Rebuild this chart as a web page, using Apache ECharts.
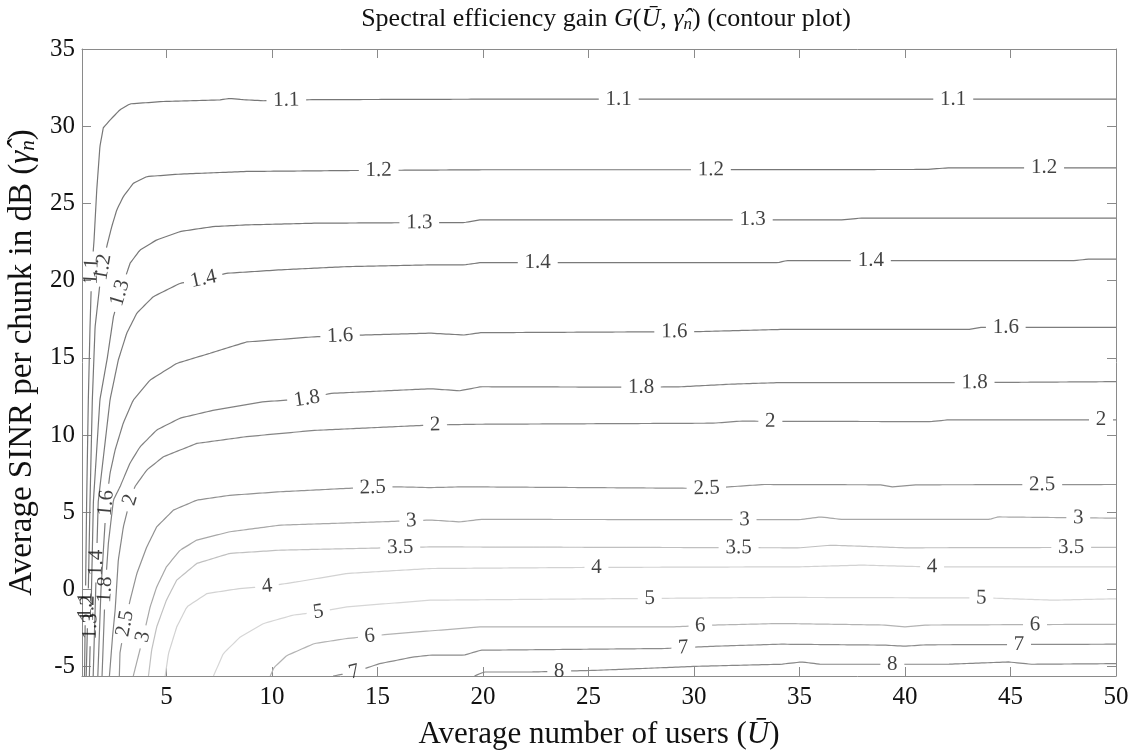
<!DOCTYPE html>
<html>
<head>
<meta charset="utf-8">
<script src="https://cdn.jsdelivr.net/npm/echarts@6/dist/echarts.min.js"></script>
<style>
  html, body { margin: 0; padding: 0; background: #ffffff; }
  #chart { width: 1139px; height: 751px; }
</style>
</head>
<body>
<div id="chart"></div>
<script>
// Contour levels of the gain G(U, gamma)
const levels = [1.1, 1.2, 1.3, 1.4, 1.6, 1.8, 2, 2.5, 3, 3.5, 4, 5, 6, 7, 8];

// Each contour: [average number of users, SINR in dB] along the iso-line
const contour_1_1 = [[1.12,-5.6],[1.17,0],[1.22,5.7],[1.3,12.3],[1.38,17],[1.46,20.6],[1.57,22.6],[1.7,25.9],[1.85,28.7],[2.01,29.9],[2.33,30.4],[2.8,31.07],[3.28,31.45],[4.85,31.6],[7.5,31.7],[8.0,31.8],[8.6,31.72],[9.6,31.65],[12,31.72],[20,31.75],[35,31.75],[50,31.75]];
const contour_1_2 = [[1.2,-5.6],[1.3,0],[1.38,5.7],[1.49,12.3],[1.62,17],[1.85,19.8],[2.17,22.2],[2.41,23.5],[2.65,24.59],[2.96,25.45],[3.43,26.3],[4.07,26.74],[5.65,26.9],[8.8,27.07],[13.6,27.13],[20,27.18],[30,27.18],[41,27.2],[42,27.3],[50,27.3]];
const contour_1_3 = [[1.35,-5.6],[1.45,0],[1.54,5.7],[1.85,12.3],[2.2,15],[2.49,17.67],[2.8,19.2],[3.28,21.13],[3.75,21.99],[4.54,22.64],[5.65,23.18],[7.2,23.5],[8.8,23.61],[12,23.72],[17.5,23.76],[19.1,23.76],[19.9,23.94],[37,23.94],[37.9,24.05],[50,24.05]];
const contour_1_4 = [[1.53,-5.6],[1.65,0],[1.77,5.7],[2.33,12.3],[2.72,14.86],[3.12,16.6],[3.6,17.9],[4.38,18.97],[5.65,19.83],[6.76,20.1],[7.87,20.48],[10.4,20.7],[13.56,20.91],[17.5,21.02],[19.1,21.02],[19.9,21.17],[34,21.17],[34.4,21.3],[48,21.3],[48.7,21.39],[50,21.39]];
const contour_1_6 = [[1.75,-5.6],[1.9,0],[2.15,5.6],[2.33,7.54],[2.57,9.04],[2.96,10.8],[3.43,12.27],[4.23,13.57],[5.5,14.65],[7.07,15.3],[8.8,16.03],[11.97,16.36],[14.35,16.48],[17.5,16.6],[19.1,16.48],[19.9,16.63],[30.2,16.7],[34.1,16.84],[43,16.84],[43.6,16.98],[50,16.98]];
const contour_1_8 = [[1.95,-5.6],[2.1,0],[2.25,3.0],[2.49,5.8],[2.8,6.65],[3.28,8.2],[3.75,9.24],[4.54,10.33],[5.65,11.1],[7.2,11.6],[9.6,12.16],[11.66,12.35],[12.77,12.7],[17.5,13.0],[18.9,12.87],[19.9,13.13],[27.5,13.1],[29.4,13.13],[31.8,13.3],[34.1,13.4],[43.3,13.4],[50,13.46]];
const contour_2 = [[2.3,-5.6],[2.45,-3],[2.57,-1.34],[2.72,1.9],[2.96,4.06],[3.28,5.8],[3.5,6.65],[4.07,7.74],[4.86,8.6],[6.44,9.46],[8.8,9.9],[11.97,10.3],[17.5,10.65],[19.6,10.7],[30.9,10.77],[32.2,10.9],[41.2,10.87],[42.0,10.98],[50,10.98]];
const contour_2_5 = [[2.77,-5.6],[2.8,-4.1],[3.04,-2.2],[3.28,-0.69],[3.6,1.04],[4.07,2.76],[4.54,4.06],[5.33,5.14],[6.44,5.79],[8.0,6.1],[10.4,6.33],[13.56,6.55],[15.9,6.65],[17.5,6.6],[19.1,6.65],[30.6,6.55],[31.7,6.65],[33.3,6.8],[38.8,6.78],[39.4,6.65],[40.6,6.78],[50,6.8]];
const contour_3 = [[3.43,-5.6],[3.9,-3.07],[4.23,-1.12],[4.54,0.17],[5.0,1.47],[5.65,2.55],[6.44,3.2],[8.0,3.74],[10.4,4.17],[15.1,4.38],[17.5,4.5],[18.9,4.38],[19.9,4.54],[35,4.52],[36,4.7],[37,4.54],[44,4.54],[44.4,4.7],[50,4.62]];
const contour_3_5 = [[4.15,-5.6],[4.3,-3.93],[4.54,-2.42],[5.0,-0.69],[5.49,0.61],[6.44,1.69],[8.0,2.34],[10.4,2.55],[17.5,2.76],[35,2.7],[36.5,2.87],[40,2.7],[50,2.73]];
const contour_4 = [[4.94,-5.6],[5.1,-4.14],[5.49,-2.42],[5.97,-1.12],[6.92,-0.26],[8.5,0.07],[9.77,0.2],[11.2,0.5],[13.56,1.04],[17.5,1.36],[25,1.43],[35,1.47],[38,1.58],[41,1.47],[50,1.47]];
const contour_5 = [[7.23,-5.6],[7.7,-4.14],[8.5,-3.07],[9.6,-2.2],[11.0,-1.66],[12.2,-1.45],[13.56,-1.12],[17.5,-0.69],[34.1,-0.51],[44,-0.55],[47,-0.69],[50,-0.6]];
const contour_6 = [[9.92,-5.6],[10.1,-5.05],[10.7,-4.28],[12.0,-3.5],[13.56,-3.17],[15.9,-2.85],[17.5,-2.68],[19.9,-2.42],[29,-2.42],[31,-2.3],[34.1,-2.2],[39,-2.3],[40,-2.42],[41,-2.3],[50,-2.25]];
const contour_7 = [[12.9,-5.6],[13.9,-5.35],[15.1,-4.8],[16.7,-4.37],[17.5,-4.25],[19.1,-4.25],[19.9,-3.93],[28.6,-3.82],[31.0,-3.67],[34.1,-3.54],[39,-3.6],[40,-3.67],[41,-3.58],[50,-3.54]];
const contour_8 = [[19.6,-5.6],[20.05,-5.34],[22.3,-5.34],[25.4,-5.23],[30.2,-4.97],[34.1,-4.84],[35.1,-4.69],[36,-4.84],[42,-4.84],[44.9,-4.69],[46,-4.84],[50,-4.8]];

const contours = [contour_1_1, contour_1_2, contour_1_3, contour_1_4, contour_1_6, contour_1_8,
  contour_2, contour_2_5, contour_3, contour_3_5, contour_4, contour_5, contour_6, contour_7, contour_8];

// Inline level labels: [level, users, SINR] near where each label sits on its line
const labelSpots = [
  [1.1, 10.7, 31.7], [1.1, 26.45, 31.75], [1.1, 42.3, 31.75], [1.1, 1.5, 20.6], [1.1, 1.15, -1.0],
  [1.2, 15.05, 27.18], [1.2, 30.8, 27.18], [1.2, 46.6, 27.3], [1.2, 1.93, 20.9], [1.2, 1.3, -1.2],
  [1.3, 17.0, 23.76], [1.3, 32.8, 23.9], [1.3, 2.8, 19.2], [1.3, 1.42, -2.4],
  [1.4, 6.76, 20.05], [1.4, 22.6, 21.1], [1.4, 38.4, 21.25], [1.4, 1.7, 1.7],
  [1.6, 13.25, 16.3], [1.6, 29.07, 16.6], [1.6, 44.8, 16.95], [1.6, 2.17, 5.6],
  [1.8, 11.66, 12.3], [1.8, 27.5, 13.05], [1.8, 43.3, 13.4], [1.8, 2.15, 0.0],
  [2, 17.75, 10.6], [2, 33.6, 10.85], [2, 49.3, 10.95], [2, 3.28, 5.8],
  [2.5, 14.8, 6.55], [2.5, 30.6, 6.55], [2.5, 46.5, 6.75], [2.5, 3.04, -2.2],
  [3, 16.6, 4.45], [3, 32.4, 4.5], [3, 48.2, 4.55], [3, 3.9, -3.07],
  [3.5, 16.1, 2.7], [3.5, 32.1, 2.7], [3.5, 47.9, 2.72],
  [4, 9.77, 0.17], [4, 25.4, 1.43], [4, 41.3, 1.5],
  [5, 12.2, -1.5], [5, 27.9, -0.6], [5, 43.6, -0.55],
  [6, 14.67, -3.2], [6, 30.3, -2.42], [6, 46.15, -2.25],
  [7, 13.9, -5.4], [7, 29.5, -3.85], [7, 45.4, -3.56],
  [8, 23.6, -5.34], [8, 39.4, -4.84]
];

// Tick values
const xTicks = [5, 10, 15, 20, 25, 30, 35, 40, 45, 50];
const yTicks = [-5, 0, 5, 10, 15, 20, 25, 30, 35];

// Grey tone of each contour level
const lineColors = ['#777777', '#777777', '#787878', '#7a7a7a', '#7d7d7d', '#818181', '#858585',
  '#929292', '#a8a8a8', '#c0c0c0', '#d2d2d2', '#d6d6d6', '#b3b3b3', '#8c8c8c', '#878787'];

const FONT = 'Liberation Serif';
const LABEL_SIZE = 21;
const AXIS_GREY = '#8a8a8a';
const INK = '#111111';

const chart = echarts.init(document.getElementById('chart'), null, { renderer: 'canvas' });

function frameAxis(extra) {
  return Object.assign({
    type: 'value',
    axisLine: { show: true, onZero: false, lineStyle: { color: AXIS_GREY, width: 1 } },
    splitLine: { show: false },
  }, extra);
}

const roman = { fontStyle: 'normal', fontFamily: FONT, color: INK };
const italic = { fontStyle: 'italic', fontFamily: FONT, color: INK };

chart.setOption({
  animation: false,
  backgroundColor: '#ffffff',
  title: {
    text: '{r|Spectral efficiency gain }{i|G}{r|(}{i|U\u0304}{r|, }{i|\u03b3\u0302}{s|n}{r|) (contour plot)}',
    left: 601, top: 1, textAlign: 'center',
    textStyle: {
      fontFamily: FONT, fontSize: 26, fontWeight: 'normal', color: INK,
      rich: {
        r: Object.assign({ fontSize: 26 }, roman),
        i: Object.assign({ fontSize: 26 }, italic),
        s: Object.assign({ fontSize: 17, padding: [10, 0, 0, 0] }, italic)
      }
    }
  },
  grid: { left: 82, right: 23, top: 49, bottom: 75, outerBoundsMode: 'none' },
  xAxis: [
    frameAxis({
      min: 1, max: 50, position: 'bottom',
      axisTick: { show: true, inside: true, length: 9, customValues: xTicks, lineStyle: { color: AXIS_GREY } },
      axisLabel: { customValues: xTicks, margin: 9, fontFamily: FONT, fontSize: 25, color: INK },
      name: '{r|Average number of users (}{i|U\u0304}{r|)}',
      nameLocation: 'middle', nameGap: 43,
      nameTextStyle: {
        fontFamily: FONT, fontSize: 31, color: INK,
        rich: {
          r: Object.assign({ fontSize: 31 }, roman),
          i: Object.assign({ fontSize: 31 }, italic)
        }
      }
    }),
    frameAxis({
      min: 1, max: 50, position: 'top',
      axisTick: { show: true, inside: true, length: 9, customValues: xTicks, lineStyle: { color: AXIS_GREY } },
      axisLabel: { show: false }
    })
  ],
  yAxis: [
    frameAxis({
      min: -5.6, max: 35, position: 'left',
      axisTick: { show: true, inside: true, length: 9, customValues: yTicks, lineStyle: { color: AXIS_GREY } },
      axisLabel: { customValues: yTicks, margin: 7, fontFamily: FONT, fontSize: 25, color: INK },
      name: '{r|Average SINR per chunk in dB (}{i|\u03b3\u0302}{s|n}{r|)}',
      nameLocation: 'middle', nameGap: 42, nameRotate: 90,
      nameTextStyle: {
        fontFamily: FONT, fontSize: 33, color: INK,
        rich: {
          r: Object.assign({ fontSize: 33 }, roman),
          i: Object.assign({ fontSize: 33 }, italic),
          s: Object.assign({ fontSize: 21, padding: [12, 0, 0, 0] }, italic)
        }
      }
    }),
    frameAxis({
      min: -5.6, max: 35, position: 'right',
      axisTick: { show: true, inside: true, length: 9, customValues: yTicks, lineStyle: { color: AXIS_GREY } },
      axisLabel: { show: false }
    })
  ],
  series: []
});

// Text width for the inline labels, used to open a gap in each contour
const measureCtx = document.createElement('canvas').getContext('2d');
measureCtx.font = LABEL_SIZE + 'px ' + FONT;
function textWidth(s) { return measureCtx.measureText(s).width; }

const toPx = p => chart.convertToPixel({ gridIndex: 0 }, p);
const toData = p => chart.convertFromPixel({ gridIndex: 0 }, p);

// Resample a pixel polyline at ~1px steps
function densify(pts) {
  const out = [];
  for (let i = 0; i < pts.length - 1; i++) {
    const a = pts[i], b = pts[i + 1];
    const n = Math.max(1, Math.ceil(Math.hypot(b[0] - a[0], b[1] - a[1])));
    for (let k = 0; k < n; k++) {
      const t = k / n;
      out.push([a[0] + (b[0] - a[0]) * t, a[1] + (b[1] - a[1]) * t]);
    }
  }
  out.push(pts[pts.length - 1].slice());
  return out;
}

const labelStyle = {
  show: true, position: 'inside', color: INK, fontFamily: FONT, fontSize: LABEL_SIZE,
  fontStyle: 'normal', fontWeight: 'normal', align: 'center', verticalAlign: 'middle',
  textBorderWidth: 0, textShadowBlur: 0
};

const series = [];
const labelData = [];

levels.forEach((level, li) => {
  const dense = densify(contours[li].map(toPx));
  const hidden = new Array(dense.length).fill(false);
  const text = String(level);

  labelSpots.filter(s => s[0] === level).forEach(s => {
    const anchor = toPx([s[1], s[2]]);
    let k = 0, best = Infinity;
    dense.forEach((p, i) => {
      const d = Math.hypot(p[0] - anchor[0], p[1] - anchor[1]);
      if (d < best) { best = d; k = i; }
    });
    const R = textWidth(text) / 2 + 6;
    const c = dense[k];
    let j0 = k, j1 = k;
    while (j0 > 0 && Math.hypot(dense[j0][0] - c[0], dense[j0][1] - c[1]) < R) j0--;
    while (j1 < dense.length - 1 && Math.hypot(dense[j1][0] - c[0], dense[j1][1] - c[1]) < R) j1++;
    for (let i = j0 + 1; i < j1; i++) hidden[i] = true;

    let ang = Math.atan2(-(dense[j1][1] - dense[j0][1]), dense[j1][0] - dense[j0][0]) * 180 / Math.PI;
    if (ang > 90) ang -= 180;
    if (ang <= -90) ang += 180;

    labelData.push({
      value: toData(c),
      label: Object.assign({}, labelStyle, { rotate: ang, formatter: text })
    });
  });

  // Split into visible pieces around the label gaps
  let piece = [];
  const flush = () => {
    if (piece.length > 1) {
      series.push({
        type: 'line', xAxisIndex: 0, yAxisIndex: 0,
        data: piece.map(toData),
        symbol: 'none', showSymbol: false, silent: true, z: 2,
        lineStyle: { color: lineColors[li], width: 1.2 }
      });
    }
    piece = [];
  };
  dense.forEach((p, i) => {
    if (hidden[i]) flush(); else piece.push(p);
  });
  flush();
});

series.push({
  type: 'scatter', xAxisIndex: 0, yAxisIndex: 0,
  data: labelData, symbolSize: 0, silent: true, z: 5,
  label: labelStyle
});

chart.setOption({ series: series });
</script>
</body>
</html>
